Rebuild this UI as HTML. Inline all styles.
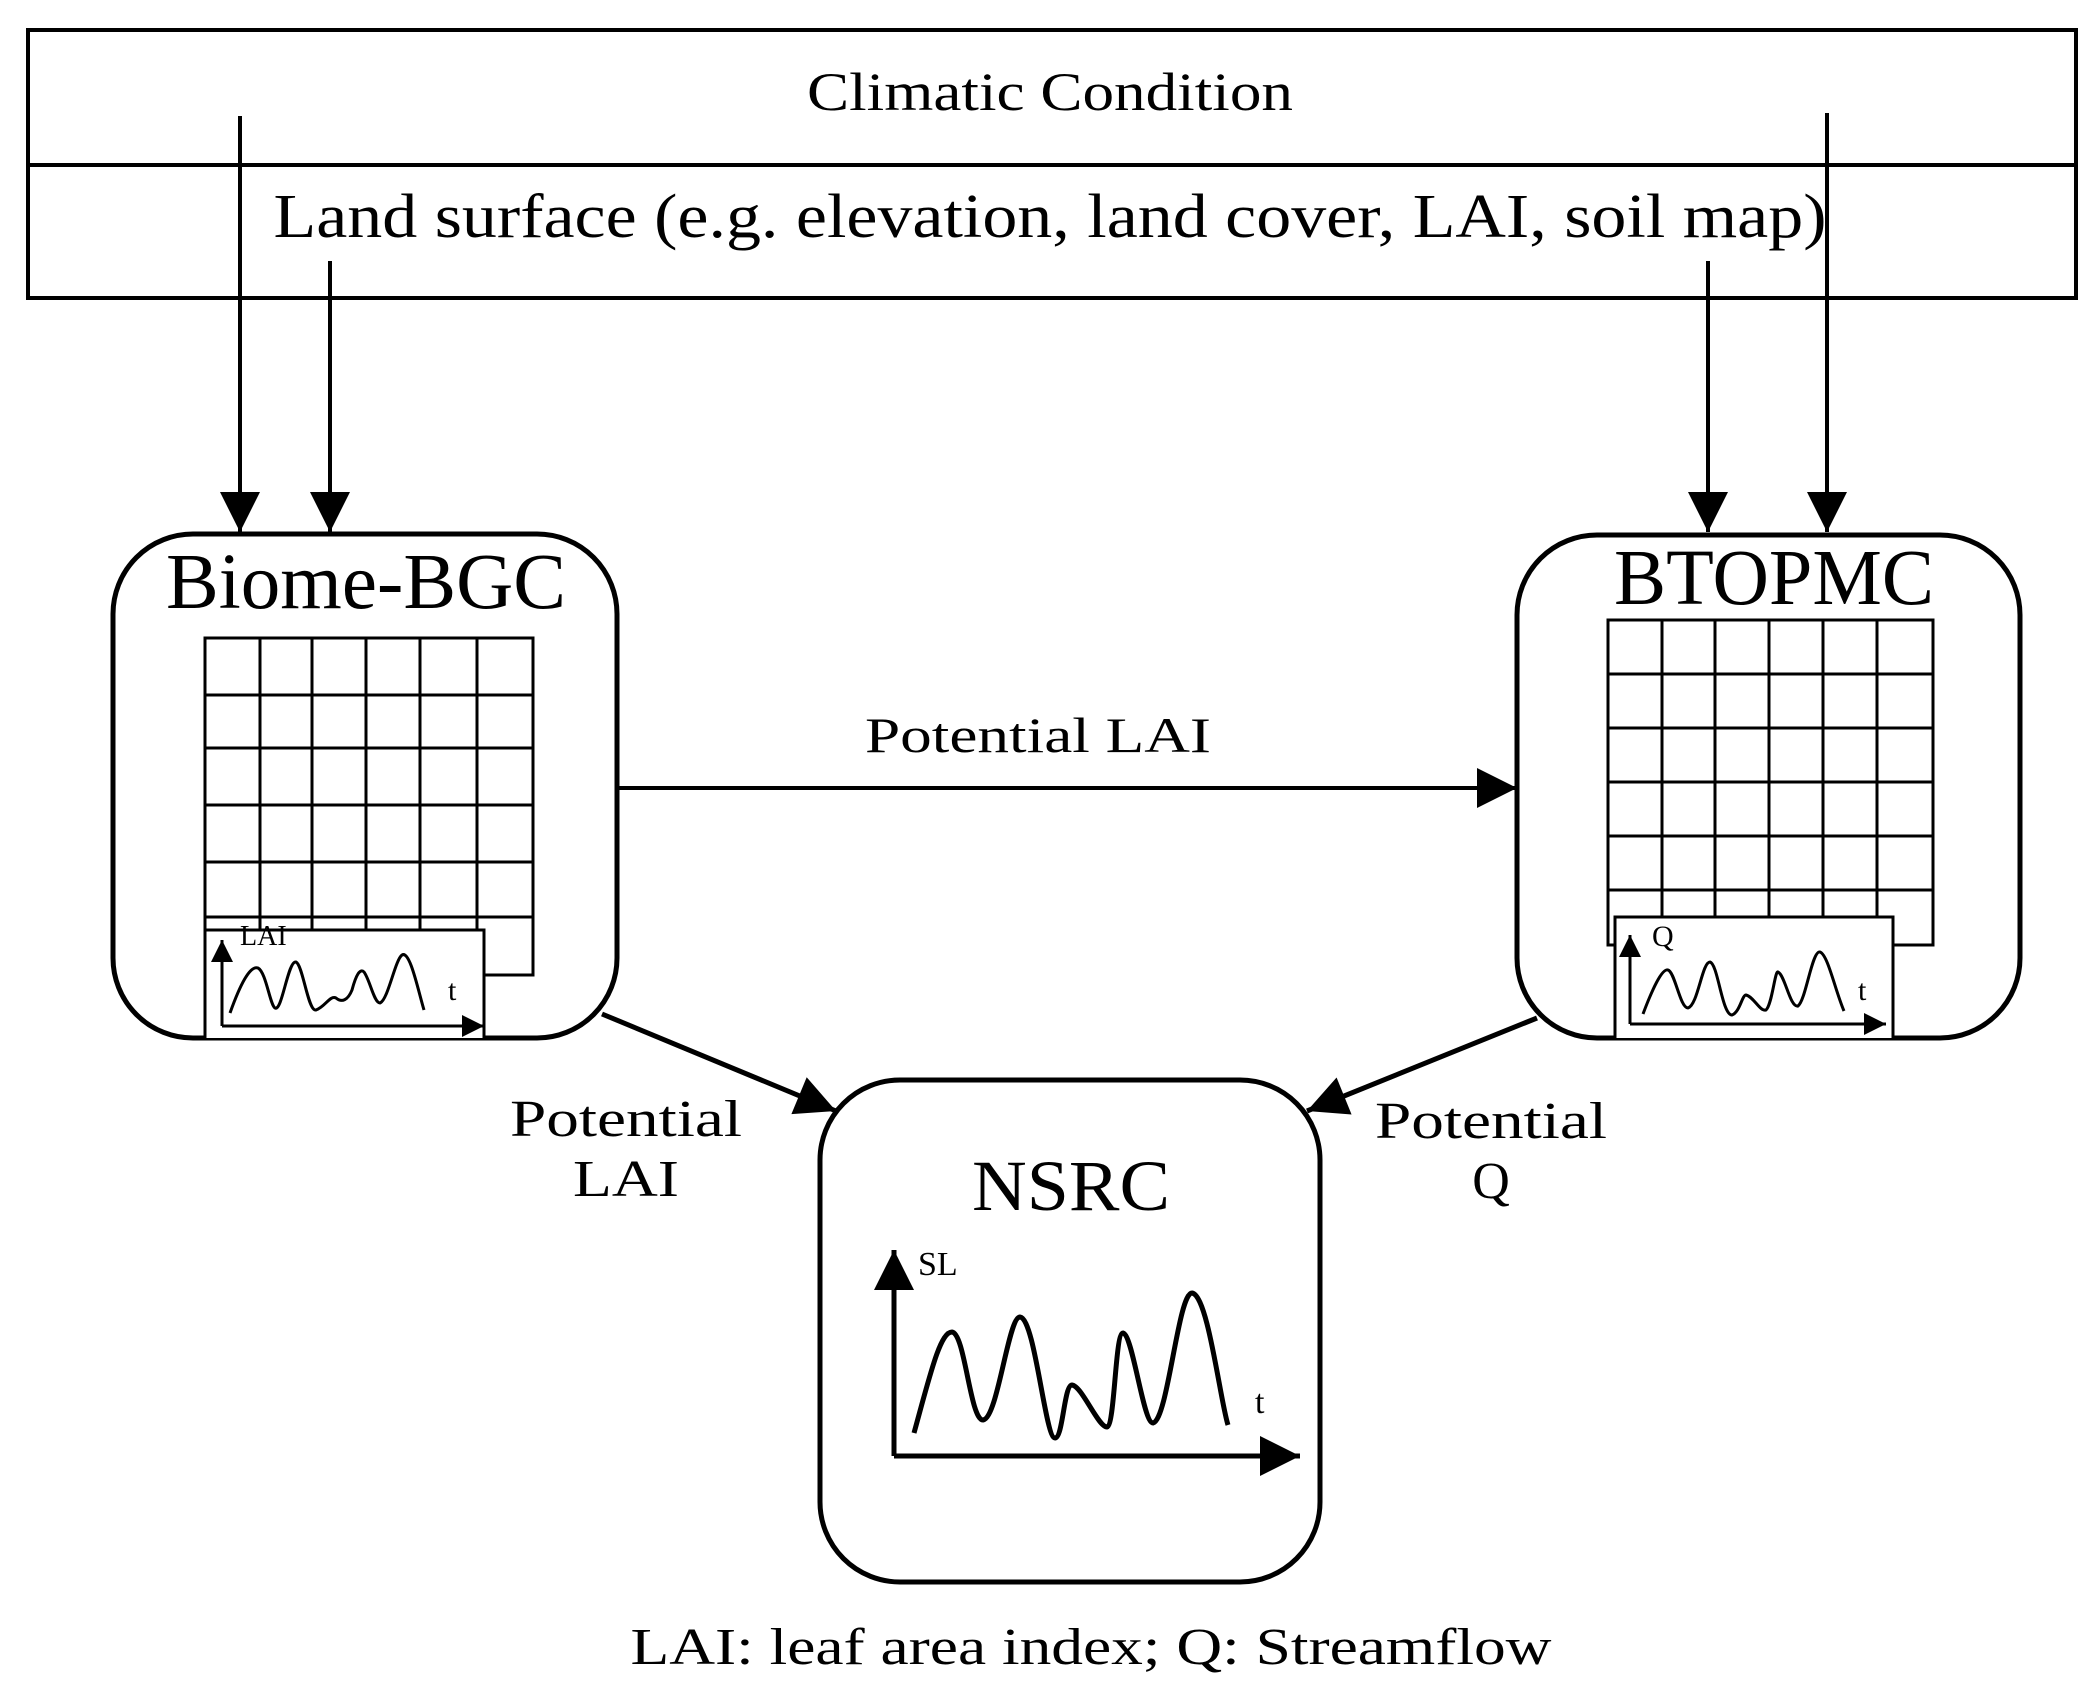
<!DOCTYPE html>
<html><head><meta charset="utf-8"><style>html,body{margin:0;padding:0;background:#fff}svg{display:block}</style></head>
<body>
<svg width="2087" height="1695" viewBox="0 0 2087 1695" xmlns="http://www.w3.org/2000/svg" font-family="Liberation Serif, serif" fill="none" stroke="#000">
<defs>
<marker id="A" viewBox="0 0 10 10" refX="10" refY="5" markerWidth="44" markerHeight="40" markerUnits="userSpaceOnUse" orient="auto"><path d="M0,0L10,5L0,10z" fill="#000" stroke="none"/></marker>
<marker id="S" viewBox="0 0 10 10" refX="10" refY="5" markerWidth="24" markerHeight="22" markerUnits="userSpaceOnUse" orient="auto"><path d="M0,0L10,5L0,10z" fill="#000" stroke="none"/></marker>
</defs>
<rect x="28" y="30" width="2048" height="268" stroke-width="4"/>
<line x1="28" y1="165" x2="2076" y2="165" stroke-width="4"/>
<text x="1050" y="110" font-size="54" fill="#000" stroke="none" text-anchor="middle" textLength="486" lengthAdjust="spacingAndGlyphs">Climatic Condition</text>
<text x="1050" y="237" font-size="62" fill="#000" stroke="none" text-anchor="middle" textLength="1553" lengthAdjust="spacingAndGlyphs">Land surface (e.g. elevation, land cover, LAI, soil map)</text>
<g stroke-width="4">
<line x1="240" y1="116" x2="240" y2="532" marker-end="url(#A)"/>
<line x1="330" y1="261" x2="330" y2="532" marker-end="url(#A)"/>
<line x1="1708" y1="261" x2="1708" y2="532" marker-end="url(#A)"/>
<line x1="1827" y1="113" x2="1827" y2="532" marker-end="url(#A)"/>
</g>
<rect x="113" y="534" width="504" height="504" rx="80" stroke-width="5"/>
<text x="366" y="608" font-size="79" fill="#000" stroke="none" text-anchor="middle" textLength="400" lengthAdjust="spacingAndGlyphs">Biome-BGC</text>
<g stroke-width="3">
<rect x="205" y="638" width="328" height="337"/>
<path d="M260,638V930M312,638V930M366,638V930M420,638V930M477,638V930M205,695H533M205,748H533M205,805H533M205,862H533M205,917H533"/>
<path d="M205,1038V930H484V1038" fill="#fff"/>
<line x1="222" y1="1026" x2="222" y2="940" marker-end="url(#S)"/>
<line x1="222" y1="1026" x2="484" y2="1026" marker-end="url(#S)"/>
<path d="M230,1013C240,985 250,965 258,968C266,972 270,1005 275,1008C282,1012 288,960 296,962C303,965 308,1012 316,1010C325,1007 330,995 336,998C342,1003 348,1000 352,990C356,975 360,968 364,972C370,980 374,1003 380,1003C388,1000 395,960 402,955C410,950 418,990 424,1010"/>
</g>
<text x="240" y="945" font-size="28" fill="#000" stroke="none">LAI</text>
<text x="448" y="1000" font-size="30" fill="#000" stroke="none">t</text>
<rect x="1517" y="535" width="503" height="503" rx="80" stroke-width="5"/>
<text x="1774" y="604" font-size="79" fill="#000" stroke="none" text-anchor="middle" textLength="320" lengthAdjust="spacingAndGlyphs">BTOPMC</text>
<g stroke-width="3">
<rect x="1608" y="620" width="325" height="325"/>
<path d="M1662,620V917M1715,620V917M1769,620V917M1823,620V917M1877,620V917M1608,674H1933M1608,728H1933M1608,782H1933M1608,836H1933M1608,890H1933"/>
<path d="M1615,1038V917H1893V1038" fill="#fff"/>
<line x1="1630" y1="1024" x2="1630" y2="935" marker-end="url(#S)"/>
<line x1="1630" y1="1024" x2="1886" y2="1024" marker-end="url(#S)"/>
<path d="M1643,1014C1652,990 1662,968 1668,970C1675,972 1680,1008 1688,1008C1698,1005 1702,962 1710,962C1718,964 1722,1015 1732,1015C1740,1012 1742,995 1746,995C1754,997 1760,1012 1766,1010C1772,1005 1775,970 1778,972C1785,975 1790,1008 1798,1006C1806,1000 1812,950 1820,952C1828,955 1835,990 1844,1011"/>
</g>
<text x="1652" y="946" font-size="30" fill="#000" stroke="none">Q</text>
<text x="1858" y="1000" font-size="30" fill="#000" stroke="none">t</text>
<line x1="617" y1="788" x2="1517" y2="788" stroke-width="4" marker-end="url(#A)"/>
<text x="1038" y="752" font-size="50" fill="#000" stroke="none" text-anchor="middle" textLength="346" lengthAdjust="spacingAndGlyphs">Potential LAI</text>
<line x1="602" y1="1014" x2="836" y2="1111" stroke-width="5" marker-end="url(#A)"/>
<line x1="1537" y1="1018" x2="1307" y2="1111" stroke-width="5" marker-end="url(#A)"/>
<g font-size="52" fill="#000" stroke="none" text-anchor="middle">
<text x="626" y="1136" textLength="232" lengthAdjust="spacingAndGlyphs">Potential</text>
<text x="626" y="1196" textLength="106" lengthAdjust="spacingAndGlyphs">LAI</text>
<text x="1491" y="1138" textLength="232" lengthAdjust="spacingAndGlyphs">Potential</text>
<text x="1491" y="1198">Q</text>
</g>
<rect x="820" y="1080" width="500" height="502" rx="80" stroke-width="5"/>
<text x="1071" y="1210" font-size="72" fill="#000" stroke="none" text-anchor="middle" textLength="198" lengthAdjust="spacingAndGlyphs">NSRC</text>
<line x1="894" y1="1456" x2="894" y2="1250" stroke-width="5" marker-end="url(#A)"/>
<line x1="894" y1="1456" x2="1300" y2="1456" stroke-width="5" marker-end="url(#A)"/>
<path d="M914,1433C930,1375 940,1332 952,1332C965,1333 970,1420 983,1420C998,1418 1008,1317 1020,1317C1035,1318 1045,1438 1055,1438C1063,1438 1064,1385 1072,1385C1082,1386 1098,1427 1107,1427C1115,1425 1115,1333 1123,1333C1133,1335 1143,1423 1153,1423C1168,1420 1178,1293 1192,1293C1208,1295 1220,1400 1228,1425" stroke-width="5"/>
<text x="918" y="1275" font-size="34" fill="#000" stroke="none">SL</text>
<text x="1255" y="1413" font-size="34" fill="#000" stroke="none">t</text>
<text x="1091" y="1664" font-size="52" fill="#000" stroke="none" text-anchor="middle" textLength="921" lengthAdjust="spacingAndGlyphs">LAI: leaf area index; Q: Streamflow</text>
</svg>
</body></html>
